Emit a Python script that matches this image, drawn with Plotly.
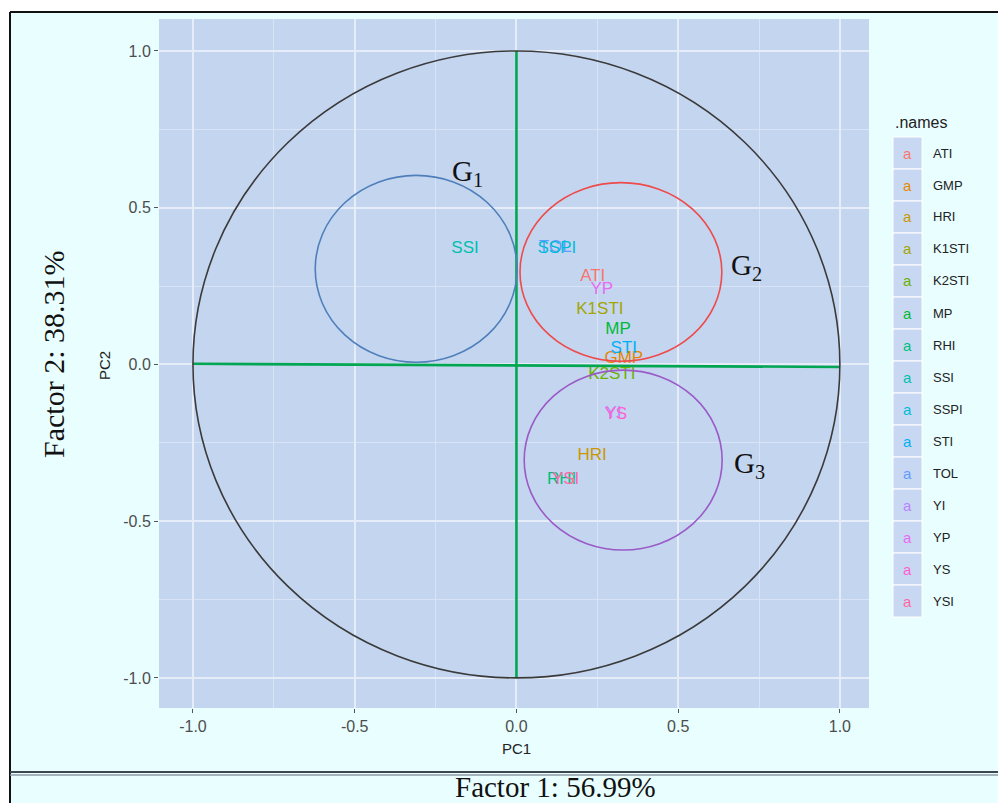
import plotly.graph_objects as go

# ---------------- data ----------------
names = ["ATI", "GMP", "HRI", "K1STI", "K2STI", "MP", "RHI", "SSI", "SSPI",
         "STI", "TOL", "YI", "YP", "YS", "YSI"]
pc1 = [0.236, 0.332, 0.234, 0.258, 0.295, 0.314, 0.140, -0.159, 0.125,
       0.332, 0.120, 0.300, 0.264, 0.307, 0.152]
pc2 = [0.279, 0.018, -0.292, 0.174, -0.033, 0.110, -0.368, 0.368, 0.368,
       0.050, 0.371, -0.158, 0.238, -0.161, -0.368]
colors = ["#F8766D", "#E58700", "#C99800", "#A3A500", "#6BB100", "#00BA38",
          "#00BF7D", "#00C0AF", "#00BCD8", "#00B0F6", "#619CFF", "#B983FF",
          "#E76BF3", "#FD61D1", "#FF67A4"]
# drawing order of labels (later ones on top)
draw_order = [10, 0, 1, 2, 3, 4, 5, 6, 7, 8, 9, 11, 12, 13, 14]

# group circles
group_labels = ["G<sub>1</sub>", "G<sub>2</sub>", "G<sub>3</sub>"]
group_cx = [-0.31, 0.323, 0.33]
group_cy = [0.305, 0.295, -0.305]
group_rx = [0.312, 0.312, 0.306]
group_ry = [0.298, 0.285, 0.287]
group_colors = ["#4F7FBA", "#EE4B4B", "#9A5BC6"]
group_label_x = [-0.15, 0.71, 0.72]
group_label_y = [0.61, 0.31, -0.32]

# unit circle and axes (green lines)
unit_r = 1.0
hline_x = [-1.0, 1.0]
hline_y = [0.002, -0.008]
vline_x = [0.0, 0.0]
vline_y = [-1.0, 1.0]

tick_vals = [-1.0, -0.5, 0.0, 0.5, 1.0]
tick_text = ["-1.0", "-0.5", "0.0", "0.5", "1.0"]

# ---------------- layout geometry ----------------
W, H = 998, 803
L, R, T, B = 159, 129, 19, 95
PW = W - L - R
PH = H - T - B


def px(x):
    return (x - L) / PW


def py(y):
    return (H - B - y) / PH


fig = go.Figure()

# green axes lines
fig.add_trace(go.Scatter(x=hline_x, y=hline_y, mode="lines",
                         line=dict(color="#00A651", width=2.6),
                         hoverinfo="skip", showlegend=False))
fig.add_trace(go.Scatter(x=vline_x, y=vline_y, mode="lines",
                         line=dict(color="#00A651", width=2.6),
                         hoverinfo="skip", showlegend=False))

# variable labels
fig.add_trace(go.Scatter(x=[pc1[i] for i in draw_order],
                         y=[pc2[i] for i in draw_order],
                         mode="text", text=[names[i] for i in draw_order],
                         textposition="middle center",
                         textfont=dict(family="Liberation Sans, Arial", size=17,
                                       color=[colors[i] for i in draw_order]),
                         showlegend=False))

shapes = []
# unit circle
shapes.append(dict(type="circle", xref="x", yref="y",
                   x0=-unit_r, x1=unit_r, y0=-unit_r, y1=unit_r,
                   line=dict(color="#3A3A3A", width=1.6), layer="above"))
# group circles
for cx, cy, rx, ry, c in zip(group_cx, group_cy, group_rx, group_ry, group_colors):
    shapes.append(dict(type="circle", xref="x", yref="y",
                       x0=cx - rx, x1=cx + rx, y0=cy - ry, y1=cy + ry,
                       line=dict(color=c, width=1.6), layer="above"))

# white margins outside the frame
shapes.append(dict(type="rect", xref="paper", yref="paper",
                   x0=px(0), x1=px(W), y0=py(12), y1=py(0),
                   fillcolor="white", line=dict(width=0), layer="below"))
shapes.append(dict(type="rect", xref="paper", yref="paper",
                   x0=px(0), x1=px(10), y0=py(H), y1=py(0),
                   fillcolor="white", line=dict(width=0), layer="below"))
# frame lines
shapes.append(dict(type="line", xref="paper", yref="paper",
                   x0=px(10), x1=px(W), y0=py(12), y1=py(12),
                   line=dict(color="#111111", width=2)))
shapes.append(dict(type="line", xref="paper", yref="paper",
                   x0=px(10), x1=px(10), y0=py(12), y1=py(H),
                   line=dict(color="#111111", width=2)))
shapes.append(dict(type="line", xref="paper", yref="paper",
                   x0=px(10), x1=px(W), y0=py(772), y1=py(772),
                   line=dict(color="#3C4650", width=2)))
shapes.append(dict(type="line", xref="paper", yref="paper",
                   x0=px(10), x1=px(W), y0=py(775), y1=py(775),
                   line=dict(color="#8C9AA6", width=1.5)))

annotations = []


def ann(x, y, text, size, color="#222222", family="Liberation Sans, Arial",
        xanchor="center", angle=0, ref="paper"):
    annotations.append(dict(x=x, y=y, xref=ref, yref=ref, text=text,
                            showarrow=False, xanchor=xanchor, yanchor="middle",
                            textangle=angle,
                            font=dict(family=family, size=size, color=color)))


SERIF = "Liberation Serif, Times New Roman"
# group labels
for gl, gx, gy in zip(group_labels, group_label_x, group_label_y):
    annotations.append(dict(x=gx, y=gy, xref="x", yref="y", text=gl,
                            showarrow=False, xanchor="center", yanchor="middle",
                            font=dict(family=SERIF, size=29, color="#111111")))

# axis titles
ann(px(516), py(748), "PC1", 15)
ann(px(104), py(366), "PC2", 15, angle=-90)
# outer factor titles
ann(px(53), py(355), "Factor 2: 38.31%", 30, color="#111111", family=SERIF, angle=-90)
ann(px(555), py(787), "Factor 1: 56.99%", 29, color="#111111", family=SERIF)

# manual legend
ann(px(893), py(123), ".names", 16, xanchor="left")
for i, (nm, col) in enumerate(zip(names, colors)):
    yc = 153 + 32 * i
    shapes.append(dict(type="rect", xref="paper", yref="paper",
                       x0=px(893), x1=px(922), y0=py(yc + 16), y1=py(yc - 16),
                       fillcolor="#C8D8F2", line=dict(color="white", width=1)))
    ann(px(907.5), py(yc), "a", 15, color=col)
    ann(px(931), py(yc), nm, 13, xanchor="left")

axis_common = dict(
    tickvals=tick_vals, ticktext=tick_text,
    ticks="outside", ticklen=4, tickwidth=1, tickcolor="#555555",
    tickfont=dict(family="Liberation Sans, Arial", size=16, color="#4D4D4D"),
    showgrid=True, gridcolor="#E6EDF9", gridwidth=2,
    minor=dict(dtick=0.25, tick0=0, showgrid=True, gridcolor="#D8E3F5",
               gridwidth=1, ticks=""),
    zeroline=False, showline=False,
)

fig.update_layout(
    width=W, height=H,
    margin=dict(l=L, r=R, t=T, b=B),
    paper_bgcolor="#E9FEFF",
    plot_bgcolor="#C4D5F0",
    showlegend=False,
    xaxis=dict(range=[-1.105, 1.09], **axis_common),
    yaxis=dict(range=[-1.096, 1.102], **axis_common),
    shapes=shapes,
    annotations=annotations,
)

fig.write_html("out.html",
               config={"displayModeBar": False},
               post_script="document.body.style.margin='0';"
                           "document.body.style.padding='0';")
